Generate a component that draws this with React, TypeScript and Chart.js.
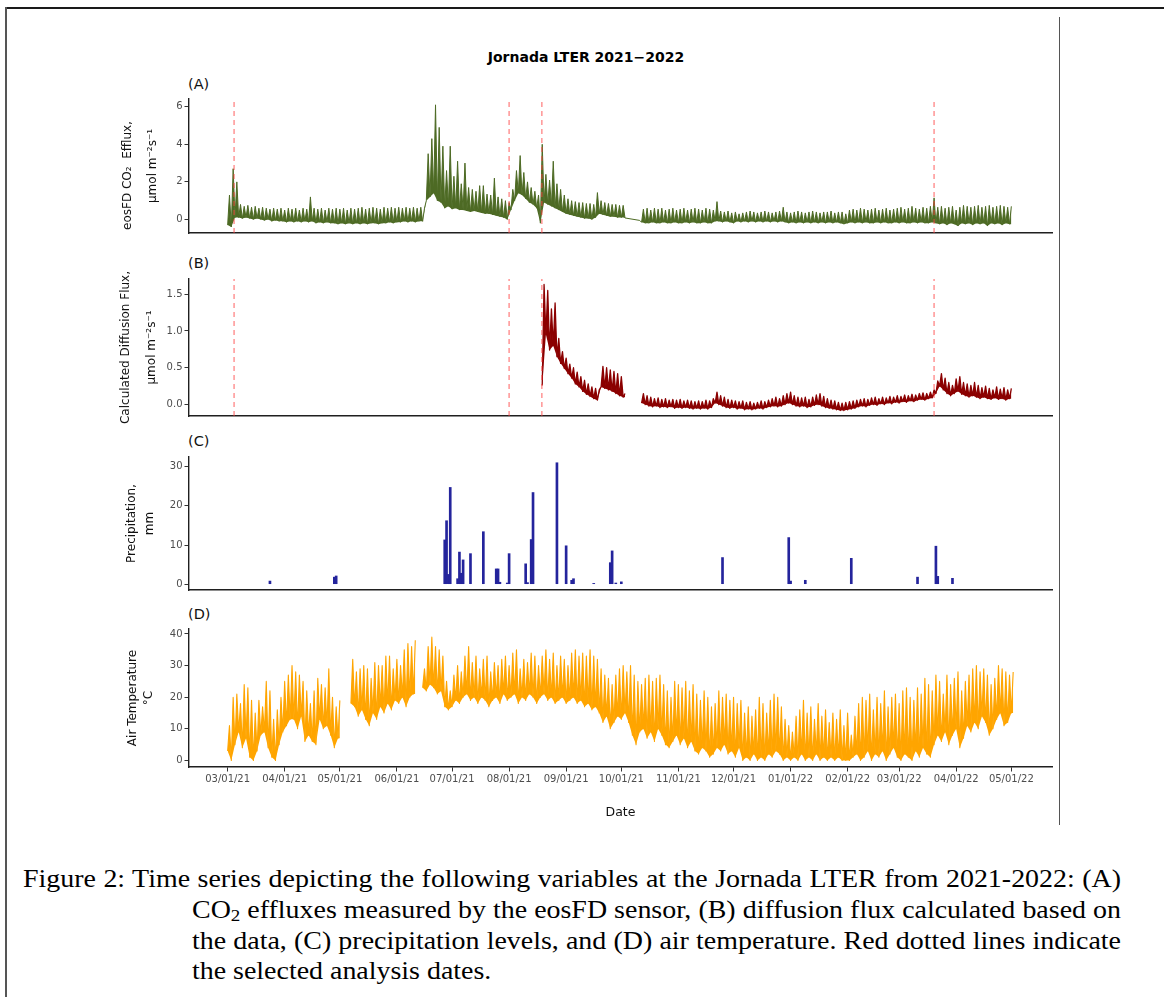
import React, { useEffect, useRef } from "react";
import { Chart, registerables } from "chart.js";

Chart.register(...registerables);

// ---------------- DATA ----------------
// x values are days since 2021-03-01
const X_MIN = -21;
const X_MAX = 448.1;
const xTickDays = [0, 31, 61, 92, 122, 153, 184, 214, 245, 275, 306, 337, 365, 396, 426];
const xTickLabels = ["03/01/21", "04/01/21", "05/01/21", "06/01/21", "07/01/21", "08/01/21", "09/01/21", "10/01/21", "11/01/21", "12/01/21", "01/01/22", "02/01/22", "03/01/22", "04/01/22", "05/01/22"];

// selected analysis dates (red dashed lines)
const analysisDays = [3.5, 153, 170.8, 384];

// each entry = one 2-day window: daily low then daily high
const dataStep = 2;

// (A) eosFD CO2 efflux
const co2Start1 = 0;
const co2Low1 = [
  -0.3, -0.4, 0.1, 0.1, 0.05, 0.1, 0.05, 0.0, 0.05, 0.0,
  -0.05, 0.0, -0.1, -0.05, -0.1, -0.1, -0.15, -0.1, -0.15, -0.1,
  -0.15, -0.1, -0.15, -0.1, -0.2, -0.15, -0.2, -0.15, -0.2, -0.2,
  -0.25, -0.2, -0.25, -0.2, -0.25, -0.2, -0.25, -0.2, -0.25, -0.2,
  -0.2, -0.25, -0.2, -0.2, -0.15, -0.2, -0.15, -0.15, -0.1, -0.15,
  -0.1, -0.15, -0.1, -0.1, 1.0, 1.2, 1.4, 1.0, 0.9, 0.6,
  0.7, 0.55, 0.6, 0.5, 0.5, 0.45, 0.4, 0.45, 0.4, 0.35,
  0.3, 0.3, 0.25, 0.2, 0.15, 0.1, 0.0, 0.5, 1.0, 1.4,
  1.3, 1.1, 0.9, 0.8, 0.6, -0.2, 0.9, 0.8, 0.7, 0.6,
  0.5, 0.4, 0.3, 0.25, 0.2, 0.15, 0.1, 0.05, 0.05, 0.0,
  0.1, 0.3, 0.25, 0.2, 0.15, 0.15, 0.1, 0.1,
];
const co2High1 = [
  1.3, 2.7, 2.0, 0.8, 0.7, 0.75, 0.65, 0.7, 0.6, 0.65,
  0.6, 0.55, 0.6, 0.55, 0.6, 0.5, 0.6, 0.55, 0.6, 0.5,
  0.6, 0.55, 1.2, 0.6, 0.55, 0.6, 0.5, 0.6, 0.55, 0.6,
  0.55, 0.6, 0.5, 0.6, 0.55, 0.6, 0.65, 0.55, 0.6, 0.65,
  0.6, 0.55, 0.65, 0.6, 0.65, 0.6, 0.65, 0.6, 0.65, 0.6,
  0.65, 0.6, 0.65, 0.6, 3.5, 4.3, 6.1, 4.9, 3.9, 2.6,
  3.9, 2.3, 3.1, 1.9, 3.0, 1.7, 1.6, 1.5, 1.8, 1.8,
  1.35, 1.3, 2.2, 1.2, 1.1, 1.0, 0.9, 1.6, 2.6, 3.4,
  2.5, 2.0, 1.7, 1.5, 1.3, 4.0, 2.4, 2.1, 3.1, 1.9,
  1.6, 1.3, 1.1, 1.0, 0.95, 0.9, 0.9, 0.85, 0.85, 0.8,
  1.43, 1.0, 0.9, 0.85, 0.8, 0.8, 0.75, 0.75,
];
const co2GapDays = [216, 224];
const co2GapValues = [0.08, -0.05];
const co2Start2 = 225;
const co2Low2 = [
  -0.15, -0.2, -0.2, -0.15, -0.2, -0.2, -0.15, -0.2, -0.2, -0.15,
  -0.2, -0.2, -0.15, -0.2, -0.15, -0.2, -0.2, -0.15, -0.2, -0.2,
  -0.1, -0.1, -0.15, -0.1, -0.15, -0.2, -0.1, -0.15, -0.1, -0.15,
  -0.1, -0.15, -0.1, -0.15, -0.1, -0.15, -0.1, -0.15, -0.1, -0.15,
  -0.2, -0.15, -0.2, -0.15, -0.2, -0.15, -0.2, -0.15, -0.2, -0.15,
  -0.2, -0.15, -0.2, -0.15, -0.2, -0.25, -0.2, -0.15, -0.2, -0.15,
  -0.2, -0.15, -0.2, -0.2, -0.15, -0.2, -0.15, -0.2, -0.2, -0.15,
  -0.2, -0.15, -0.2, -0.2, -0.15, -0.2, -0.15, -0.2, -0.2, -0.15,
  -0.2, -0.25, -0.2, -0.3, -0.2, -0.25, -0.35, -0.2, -0.25, -0.2,
  -0.3, -0.2, -0.25, -0.2, -0.35, -0.2, -0.25, -0.2, -0.3, -0.2,
  -0.25,
];
const co2High2 = [
  0.55, 0.6, 0.5, 0.6, 0.55, 0.6, 0.5, 0.55, 0.6, 0.5,
  0.55, 0.6, 0.5, 0.55, 0.6, 0.55, 0.5, 0.6, 0.55, 0.5,
  0.95, 0.45, 0.4, 0.45, 0.35, 0.4, 0.3, 0.35, 0.4, 0.45,
  0.4, 0.35, 0.4, 0.45, 0.4, 0.35, 0.4, 0.45, 0.65, 0.4,
  0.35, 0.4, 0.45, 0.4, 0.35, 0.4, 0.45, 0.4, 0.35, 0.4,
  0.4, 0.45, 0.35, 0.4, 0.4, 0.3, 0.5, 0.55, 0.5, 0.6,
  0.55, 0.5, 0.55, 0.6, 0.5, 0.55, 0.6, 0.5, 0.55, 0.6,
  0.65, 0.55, 0.6, 0.7, 0.6, 0.55, 0.65, 0.6, 0.7, 1.15,
  0.65, 0.7, 0.6, 0.65, 0.7, 0.5, 0.65, 0.75, 0.7, 0.65,
  0.7, 0.75, 0.65, 0.7, 0.75, 0.65, 0.7, 0.75, 0.7, 0.65,
  0.7,
];

// (B) calculated diffusion flux
const diffStart1 = 171;
const diffLow1 = [0.26, 0.95, 0.74, 0.8, 0.65, 0.56, 0.49, 0.42, 0.36, 0.28, 0.24, 0.18, 0.14, 0.11, 0.08, 0.06, 0.24, 0.22, 0.2, 0.18, 0.15, 0.12, 0.1];
const diffHigh1 = [1.63, 1.55, 1.3, 1.38, 0.9, 0.72, 0.63, 0.55, 0.5, 0.44, 0.38, 0.33, 0.28, 0.24, 0.22, 0.2, 0.52, 0.5, 0.47, 0.45, 0.42, 0.38, 0.15];
const diffStart2 = 225;
const diffLow2 = [
  0.02, 0.0, -0.02, -0.03, -0.02, -0.04, -0.03, -0.04, -0.03, -0.05,
  -0.04, -0.05, -0.04, -0.05, -0.06, -0.05, -0.06, -0.05, -0.06, -0.04,
  0.02, 0.0, -0.02, -0.04, -0.05, -0.04, -0.06, -0.05, -0.07, -0.06,
  -0.07, -0.06, -0.05, -0.06, -0.04, -0.03, -0.02, -0.03, -0.02, 0.0,
  0.02, 0.0, -0.02, -0.03, -0.02, -0.04, -0.03, -0.01, 0.0, -0.02,
  -0.04, -0.05, -0.06, -0.07, -0.08, -0.08, -0.07, -0.06, -0.05, -0.03,
  -0.02, -0.03, -0.01, 0.0, -0.01, 0.01, 0.0, 0.02, 0.01, 0.03,
  0.02, 0.04, 0.03, 0.05, 0.04, 0.06, 0.07, 0.06, 0.08, 0.09,
  0.15, 0.25, 0.2, 0.15, 0.12, 0.15, 0.18, 0.14, 0.12, 0.1,
  0.12, 0.1, 0.08, 0.1, 0.08, 0.07, 0.09, 0.07, 0.08, 0.06,
  0.08,
];
const diffHigh2 = [
  0.15, 0.12, 0.1, 0.08, 0.09, 0.07, 0.08, 0.06, 0.07, 0.06,
  0.07, 0.05, 0.06, 0.05, 0.04, 0.05, 0.04, 0.06, 0.05, 0.08,
  0.17, 0.12, 0.1, 0.07, 0.06, 0.05, 0.04, 0.05, 0.03, 0.04,
  0.02, 0.03, 0.05, 0.04, 0.06, 0.08, 0.1, 0.08, 0.12, 0.15,
  0.17, 0.12, 0.1, 0.09, 0.1, 0.07, 0.1, 0.13, 0.15, 0.11,
  0.08, 0.06, 0.05, 0.03, 0.02, 0.03, 0.04, 0.05, 0.06, 0.07,
  0.08, 0.07, 0.09, 0.1, 0.08, 0.1, 0.09, 0.11, 0.1, 0.12,
  0.11, 0.13, 0.12, 0.14, 0.13, 0.15, 0.16, 0.15, 0.17, 0.2,
  0.32, 0.42, 0.36, 0.3, 0.26, 0.35, 0.38, 0.3, 0.28, 0.26,
  0.3, 0.26, 0.23, 0.25, 0.22, 0.2, 0.24, 0.21, 0.23, 0.2,
  0.22,
];

// (C) precipitation, mm
const precipDays = [23, 58, 59, 118, 119, 120, 121, 125, 126, 127, 128, 132, 139, 146, 147, 148, 152, 153, 162, 163, 165, 166, 179, 184, 187, 188, 199, 208, 209, 211, 214, 269, 305, 306, 314, 339, 375, 385, 386, 394];
const precipMm = [0.8, 1.8, 2.1, 11.3, 16.2, 2.5, 24.7, 1.4, 8.2, 2.8, 6.2, 7.8, 13.4, 3.9, 3.9, 0.5, 0.3, 7.8, 5.2, 0.4, 11.4, 23.4, 31.0, 9.8, 1.0, 1.4, 0.2, 5.5, 8.5, 0.3, 0.6, 6.8, 11.9, 0.8, 1.0, 6.6, 1.8, 9.7, 2.0, 1.5];

// (D) air temperature, °C
const tempStart1 = 0;
const tempLow1 = [3, 0, 5, 9, 4, 7, 1, 0, 3, 8, 9, 4, 1, 0, 5, 9, 11, 13, 13, 10, 14, 6, 8, 6, 5, 13, 10, 11, 8, 4, 7];
const tempHigh1 = [11, 20, 21, 18, 24, 23, 19, 15, 19, 17, 25, 22, 13, 16, 20, 25, 27, 30, 28, 27, 25, 22, 18, 22, 26, 24, 23, 29, 20, 17, 19];
const tempStart2 = 67;
const tempLow2 = [18, 17, 14, 16, 13, 11, 15, 13, 17, 15, 18, 16, 19, 18, 20, 17, 20, 21];
const tempHigh2 = [32, 28, 29, 30, 29, 26, 31, 30, 30, 33, 33, 29, 32, 30, 35, 37, 36, 38];
const tempStart3 = 106;
const tempLow3 = [
  23, 22, 24, 23, 21, 22, 17, 16, 17, 19,
  18, 20, 21, 19, 20, 18, 20, 19, 17, 19,
  20, 18, 21, 19, 20, 21, 18, 20, 19, 21,
  20, 18, 20, 21, 19, 20, 18, 19, 20, 18,
  19, 20, 18, 19, 17, 18, 16, 17, 15, 12,
  14, 10, 12, 14, 13, 15, 12, 8, 5, 9,
  10, 7, 9, 6, 10, 8, 5, 4, 6, 8,
  5, 7, 4, 6, 3, 2, 4, 3, 1, 2,
  4, 3, 5, 2, 3, 1, 4, 0, 1, 0,
  2, 0, 1, 0, 2, 1, 3, 2, 0, 1,
  0, 1, 0, 2, 0, 1, 0, 2, 0, 1,
  0, 1, 0, 1, 0, 0, 0, 1, 2, 0,
  1, 3, 0, 2, 1, 3, 0, 2, 4, 1,
  0, 2, 1, 0, 3, 1, 4, 2, 1, 5,
  8, 6, 9, 5, 8, 10, 4, 7, 11, 9,
  12, 10, 14, 12, 8, 10, 13, 15, 11, 12,
  15,
];
const tempHigh3 = [
  29, 36, 39, 36, 35, 33, 25, 22, 27, 30,
  28, 33, 36, 31, 33, 29, 32, 33, 28, 31,
  30, 32, 33, 30, 34, 35, 29, 32, 31, 34,
  33, 30, 33, 35, 32, 34, 30, 33, 32, 30,
  34, 35, 33, 34, 33, 35, 33, 32, 29, 27,
  26, 24, 27, 29, 30, 28, 30, 27, 25, 24,
  26, 27, 25, 26, 27, 24, 22, 20, 25, 24,
  23, 25, 22, 24, 21, 19, 22, 20, 17, 18,
  22, 20, 21, 19, 20, 18, 19, 15, 17, 14,
  16, 20, 18, 15, 19, 21, 20, 17, 13, 11,
  9, 14, 16, 19, 15, 17, 13, 18, 14, 16,
  12, 15, 13, 16, 11, 15, 8, 14, 18, 20,
  19, 21, 16, 20, 18, 22, 17, 20, 21, 18,
  22, 23, 20, 19, 23, 21, 26, 24, 22, 27,
  25, 21, 27, 24, 26, 28, 22, 25, 27, 29,
  30, 28, 29, 27, 24, 26, 30, 29, 28, 27,
  28,
];

// axis ticks
const co2Ticks = [0, 2, 4, 6];
const co2TickLabels = ["0", "2", "4", "6"];
const diffTicks = [0, 0.5, 1, 1.5];
const diffTickLabels = ["0.0", "0.5", "1.0", "1.5"];
const precipTicks = [0, 10, 20, 30];
const precipTickLabels = ["0", "10", "20", "30"];
const tempTicks = [0, 10, 20, 30, 40];
const tempTickLabels = ["0", "10", "20", "30", "40"];

// ---------------- HELPERS ----------------
type Pt = { x: number; y: number | null };
type Seg = { start: number; lows: number[]; highs: number[] } | { gap: true } | { points: Pt[] };

// builds the daily low/high trace and the matching low envelope
function buildSeries(segs: Seg[]): { trace: Pt[]; floor: Pt[] } {
  const trace: Pt[] = [];
  const floor: Pt[] = [];
  let lastX = 0;
  for (const s of segs) {
    if ("gap" in s) {
      trace.push({ x: lastX + 0.5, y: null });
      floor.push({ x: lastX + 0.5, y: null });
    } else if ("points" in s) {
      for (const p of s.points) {
        trace.push(p);
        floor.push(p);
        lastX = p.x;
      }
    } else {
      for (let i = 0; i < s.lows.length; i++) {
        const x0 = s.start + i * dataStep;
        trace.push({ x: x0, y: s.lows[i] });
        trace.push({ x: x0 + dataStep / 2, y: s.highs[i] });
        floor.push({ x: x0, y: s.lows[i] });
        lastX = x0 + dataStep / 2;
      }
      floor.push({ x: lastX, y: s.lows[s.lows.length - 1] });
    }
  }
  return { trace, floor };
}

const SANS = "'DejaVu Sans', 'Liberation Sans', sans-serif";
const SERIF = "'Liberation Serif', 'Times New Roman', serif";
const AXIS_COLOR = "#1f1f1f";
const TICK_COLOR = "#333333";
const LABEL_COLOR = "#4d4d4d";

function dashedSets(yMin: number, yMax: number) {
  return analysisDays.map((d) => ({
    type: "line",
    data: [{ x: d, y: yMin }, { x: d, y: yMax }],
    borderColor: "rgba(255,64,64,0.6)",
    borderWidth: 1.4,
    borderDash: [5, 4],
    pointRadius: 0,
    fill: false,
  }));
}

// trace dataset filled down to its low envelope, plus the (invisible) envelope
function bandSets(series: { trace: Pt[]; floor: Pt[] }, color: string, width: number, floorIndex: number) {
  return [
    {
      type: "line",
      data: series.trace,
      borderColor: color,
      backgroundColor: color,
      borderWidth: width,
      pointRadius: 0,
      borderJoinStyle: "round",
      spanGaps: false,
      fill: { target: floorIndex },
    },
    {
      type: "line",
      data: series.floor,
      borderColor: "rgba(0,0,0,0)",
      backgroundColor: "rgba(0,0,0,0)",
      borderWidth: 0,
      pointRadius: 0,
      spanGaps: false,
      fill: false,
    },
  ];
}

interface PanelSpec {
  yMin: number;
  yMax: number;
  yTicks: number[];
  yTickLabels: string[];
  yTitle: string[];
  titleLH: number;
  titlePad: number;
  showX: boolean;
  xHeight: number;
  padTop: number;
  padBottom: number;
}

function buildOptions(p: PanelSpec): any {
  return {
    responsive: false,
    maintainAspectRatio: false,
    animation: false,
    devicePixelRatio: 1,
    events: [],
    layout: { padding: { top: p.padTop, bottom: p.padBottom, left: 0, right: 8 } },
    plugins: { legend: { display: false }, tooltip: { enabled: false }, title: { display: false } },
    elements: { point: { radius: 0 }, line: { tension: 0 } },
    scales: {
      x: {
        type: "linear",
        min: X_MIN,
        max: X_MAX,
        bounds: "data",
        offset: false,
        afterBuildTicks: (s: any) => {
          s.ticks = xTickDays.map((v) => ({ value: v }));
        },
        afterFit: (s: any) => {
          s.height = p.xHeight;
        },
        ticks: {
          display: p.showX,
          autoSkip: false,
          maxRotation: 0,
          minRotation: 0,
          padding: 2,
          color: LABEL_COLOR,
          font: { family: SANS, size: 10 },
          callback: (_v: any, i: number) => xTickLabels[i],
        },
        grid: { display: true, drawOnChartArea: false, drawTicks: p.showX, tickLength: 4.5, color: TICK_COLOR, lineWidth: 1, offset: false },
        border: { display: true, color: AXIS_COLOR, width: 1.4 },
        title: {
          display: p.showX,
          text: "Date",
          color: "#111",
          font: { family: SANS, size: 12.5, lineHeight: 1.2 },
          padding: { top: 0, bottom: 9.5 },
        },
      },
      y: {
        type: "linear",
        min: p.yMin,
        max: p.yMax,
        bounds: "data",
        afterBuildTicks: (s: any) => {
          s.ticks = p.yTicks.map((v) => ({ value: v }));
        },
        afterFit: (s: any) => {
          s.width = 89;
        },
        ticks: {
          padding: 2,
          color: LABEL_COLOR,
          font: { family: SANS, size: 10 },
          callback: (_v: any, i: number) => p.yTickLabels[i],
        },
        grid: { display: true, drawOnChartArea: false, drawTicks: true, tickLength: 4.5, color: TICK_COLOR, lineWidth: 1 },
        border: { display: true, color: AXIS_COLOR, width: 1.4 },
        title: {
          display: true,
          text: p.yTitle,
          color: "#111",
          font: { family: SANS, size: 12, lineHeight: p.titleLH / 12 },
          padding: { top: p.titlePad, bottom: 0 },
        },
      },
    },
  };
}

const specA: PanelSpec = {
  yMin: -0.72, yMax: 6.41, yTicks: co2Ticks, yTickLabels: co2TickLabels,
  yTitle: ["eosFD CO\u2082  Efflux,     ", "\u03bcmol m\u207b\u00b2s\u207b\u00b9"],
  titleLH: 25, titlePad: 15.5, showX: false, xHeight: 0, padTop: 9, padBottom: 4,
};
const specB: PanelSpec = {
  yMin: -0.155, yMax: 1.705, yTicks: diffTicks, yTickLabels: diffTickLabels,
  yTitle: ["Calculated Diffusion Flux,", "\u03bcmol m\u207b\u00b2s\u207b\u00b9"],
  titleLH: 26, titlePad: 13, showX: false, xHeight: 0, padTop: 11, padBottom: 10,
};
const specC: PanelSpec = {
  yMin: -1.48, yMax: 32.47, yTicks: precipTicks, yTickLabels: precipTickLabels,
  yTitle: ["Precipitation,", "mm"],
  titleLH: 18, titlePad: 23, showX: false, xHeight: 0, padTop: 11, padBottom: 4,
};
const specD: PanelSpec = {
  yMin: -2.08, yMax: 41.58, yTicks: tempTicks, yTickLabels: tempTickLabels,
  yTitle: ["Air Temperature", "\u00b0C"],
  titleLH: 16, titlePad: 25, showX: true, xHeight: 63, padTop: 9, padBottom: 0,
};

function configA(): any {
  const co2 = buildSeries([
    { start: co2Start1, lows: co2Low1, highs: co2High1 },
    { points: co2GapDays.map((d, i) => ({ x: d, y: co2GapValues[i] })) },
    { start: co2Start2, lows: co2Low2, highs: co2High2 },
  ]);
  const dashed = dashedSets(specA.yMin, specA.yMax);
  return {
    type: "line",
    data: { datasets: [...dashed, ...bandSets(co2, "#4d6a24", 1, dashed.length + 1)] },
    options: buildOptions(specA),
  };
}

function configB(): any {
  const diff = buildSeries([
    { start: diffStart1, lows: diffLow1, highs: diffHigh1 },
    { gap: true },
    { start: diffStart2, lows: diffLow2, highs: diffHigh2 },
  ]);
  const dashed = dashedSets(specB.yMin, specB.yMax);
  return {
    type: "line",
    data: { datasets: [...dashed, ...bandSets(diff, "#8b0000", 1.3, dashed.length + 1)] },
    options: buildOptions(specB),
  };
}

function configC(): any {
  return {
    type: "bar",
    data: {
      datasets: [
        {
          data: precipDays.map((d, i) => ({ x: d, y: precipMm[i] })),
          backgroundColor: "#24249c",
          borderWidth: 0,
          barThickness: 2,
          grouped: false,
        },
      ],
    },
    options: buildOptions(specC),
  };
}

function configD(): any {
  const temp = buildSeries([
    { start: tempStart1, lows: tempLow1, highs: tempHigh1 },
    { gap: true },
    { start: tempStart2, lows: tempLow2, highs: tempHigh2 },
    { gap: true },
    { start: tempStart3, lows: tempLow3, highs: tempHigh3 },
  ]);
  return {
    type: "line",
    data: { datasets: bandSets(temp, "#ffa500", 1.1, 1) },
    options: buildOptions(specD),
  };
}

function ChartPanel({ top, height, build }: { top: number; height: number; build: () => any }) {
  const ref = useRef<HTMLCanvasElement | null>(null);
  useEffect(() => {
    if (!ref.current) return;
    const chart = new Chart(ref.current, build());
    return () => chart.destroy();
  }, []);
  return (
    <canvas
      ref={ref}
      width={960}
      height={height}
      style={{ position: "absolute", left: 100, top, width: 960, height, display: "block" }}
    />
  );
}

const panelLabel = (text: string, top: number) => (
  <div
    style={{
      position: "absolute",
      left: 188,
      top,
      font: `14.5px ${SANS}`,
      lineHeight: "16px",
      color: "#111",
      whiteSpace: "nowrap",
    }}
  >
    {text}
  </div>
);

const CAP_STRETCH = 1.117;
const captionLine: React.CSSProperties = {
  position: "absolute",
  font: `25px ${SERIF}`,
  lineHeight: "31px",
  color: "#000",
  textAlign: "justify",
  textAlignLast: "justify" as any,
  transform: `scaleX(${CAP_STRETCH})`,
  transformOrigin: "0 0",
};

export default function App() {
  return (
    <div
      style={{
        position: "absolute",
        left: 0,
        top: 0,
        width: 1164,
        height: 997,
        background: "#fff",
        overflow: "hidden",
      }}
    >
      {/* frame */}
      <div style={{ position: "absolute", left: 6, top: 7, width: 1158, height: 0, borderTop: "2px solid #1a1a1a" }} />
      <div style={{ position: "absolute", left: 5, top: 7, width: 0, height: 990, borderLeft: "2px solid #555" }} />
      <div style={{ position: "absolute", left: 1059, top: 17, width: 0, height: 808, borderLeft: "1.5px solid #555" }} />

      {/* title */}
      <div
        style={{
          position: "absolute",
          left: 0,
          width: 1172,
          top: 49,
          textAlign: "center",
          font: `bold 14px ${SANS}`,
          lineHeight: "16px",
          color: "#000",
        }}
      >
        Jornada LTER 2021{"\u2212"}2022
      </div>

      {panelLabel("(A)", 75.5)}
      {panelLabel("(B)", 254.5)}
      {panelLabel("(C)", 433)}
      {panelLabel("(D)", 605.5)}

      <ChartPanel top={90} height={151} build={configA} />
      <ChartPanel top={268} height={158} build={configB} />
      <ChartPanel top={446} height={152} build={configC} />
      <ChartPanel top={620} height={210} build={configD} />

      {/* caption */}
      <div style={{ ...captionLine, left: 23, top: 863, width: 1098 / CAP_STRETCH }}>
        Figure 2: Time series depicting the following variables at the Jornada LTER from 2021-2022: (A)
      </div>
      <div style={{ ...captionLine, left: 192, top: 894, width: 929 / CAP_STRETCH }}>
        CO<span style={{ fontSize: "0.68em", verticalAlign: "-0.2em", lineHeight: 0 }}>2</span> effluxes measured by the eosFD sensor, (B) diffusion flux calculated based on
      </div>
      <div style={{ ...captionLine, left: 192, top: 925, width: 929 / CAP_STRETCH }}>
        the data, (C) precipitation levels, and (D) air temperature. Red dotted lines indicate
      </div>
      <div style={{ ...captionLine, left: 192, top: 955, textAlign: "left", textAlignLast: "auto" as any, whiteSpace: "nowrap" }}>
        the selected analysis dates.
      </div>
    </div>
  );
}
